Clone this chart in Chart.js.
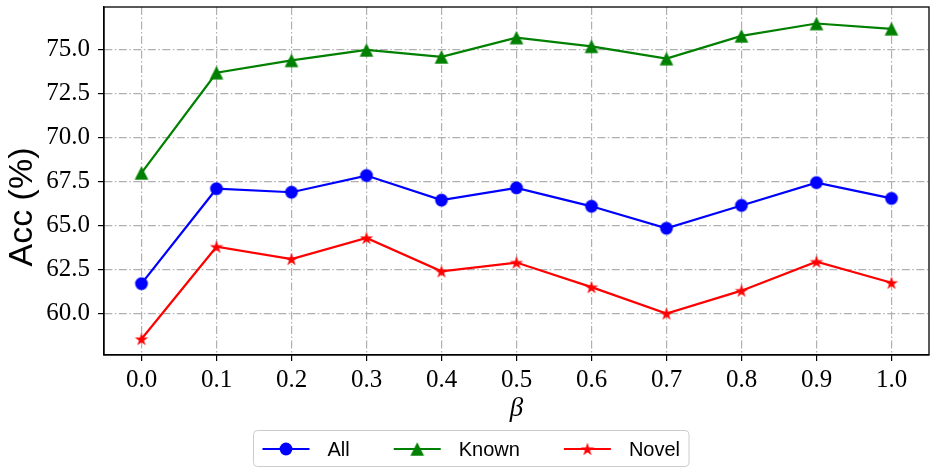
<!DOCTYPE html>
<html>
<head>
<meta charset="utf-8">
<script src="https://cdn.jsdelivr.net/npm/chart.js@4.4.1/dist/chart.umd.min.js"></script>
<style>
  html, body { margin: 0; padding: 0; background: #ffffff; }
  #wrap { width: 933px; height: 468px; }
</style>
</head>
<body>
<div id="wrap"><canvas id="chart" width="933" height="468"></canvas></div>
<script>
// Accuracy (%) against the weighting factor beta
const betaLabels = ['0.0', '0.1', '0.2', '0.3', '0.4', '0.5', '0.6', '0.7', '0.8', '0.9', '1.0'];
const accAll   = [61.7, 67.1, 66.9, 67.85, 66.45, 67.15, 66.1, 64.85, 66.15, 67.45, 66.55];
const accKnown = [68.0, 73.7, 74.4, 75.0, 74.6, 75.7, 75.2, 74.5, 75.8, 76.5, 76.2];
const accNovel = [58.55, 63.8, 63.1, 64.3, 62.4, 62.9, 61.5, 60.0, 61.3, 62.95, 61.75];
const yTicks   = [60.0, 62.5, 65.0, 67.5, 70.0, 72.5, 75.0];
const yRange   = [57.64, 77.44];

const BLUE = '#0000ff', GREEN = '#008000', RED = '#ff0000';

// Filled marker glyphs rendered once into small canvases
function markerCanvas(shape, color) {
  const size = 16, m = size / 2;
  const c = document.createElement('canvas');
  c.width = size; c.height = size;
  const g = c.getContext('2d');
  g.fillStyle = color;
  g.beginPath();
  if (shape === 'circle') {
    g.arc(m, m, 6.4, 0, Math.PI * 2);
  } else if (shape === 'triangle') {
    g.moveTo(m, m - 6.8);
    g.lineTo(m - 6.8, m + 6.8);
    g.lineTo(m + 6.8, m + 6.8);
    g.closePath();
  } else if (shape === 'star') {
    const R = 7, r = R * 0.381966;
    for (let i = 0; i < 10; i++) {
      const a = -Math.PI / 2 + i * Math.PI / 5;
      const rad = i % 2 ? r : R;
      const px = m + rad * Math.cos(a), py = m + 0.6 + rad * Math.sin(a);
      if (i === 0) g.moveTo(px, py); else g.lineTo(px, py);
    }
    g.closePath();
  }
  g.fill();
  return c;
}

const markAll = markerCanvas('circle', BLUE);
const markKnown = markerCanvas('triangle', GREEN);
const markNovel = markerCanvas('star', RED);

// Closed black frame round the plotting area
const frame = {
  id: 'frame',
  afterDatasetsDraw(chart) {
    const {ctx, chartArea: a} = chart;
    ctx.save();
    ctx.setLineDash([]);
    ctx.strokeStyle = '#000';
    ctx.lineWidth = 1.3;
    ctx.strokeRect(a.left, a.top, a.right - a.left, a.bottom - a.top);
    ctx.restore();
  }
};

// Rotated y-axis caption
const yCaption = {
  id: 'yCaption',
  afterDraw(chart) {
    const ctx = chart.ctx;
    ctx.save();
    ctx.translate(23, 207);
    ctx.rotate(-Math.PI / 2);
    ctx.fillStyle = '#000';
    ctx.font = '34px "Liberation Sans"';
    ctx.textAlign = 'center';
    ctx.textBaseline = 'middle';
    ctx.fillText('Acc (%)', 0, 0);
    ctx.restore();
  }
};

// Framed legend below the axis, one line-and-marker sample per series
const lineLegend = {
  id: 'lineLegend',
  afterDraw(chart) {
    const ctx = chart.ctx;
    ctx.save();
    ctx.setLineDash([]);
    ctx.font = '20px "Liberation Sans"';
    const items = chart.data.datasets.map(ds => ({
      label: ds.label, color: ds.borderColor, mark: ds.pointStyle,
      w: ctx.measureText(ds.label).width
    }));
    const handle = 47, gapText = 18, gapItem = 44, padX = 9;
    const total = padX * 2 + items.reduce((s, it) => s + handle + gapText + it.w, 0) + gapItem * (items.length - 1);
    const cx = 470.5, top = 430.5, h = 36, rr = 4;
    const left = Math.round(cx - total / 2) + 0.5, right = left + total;
    ctx.beginPath();
    ctx.moveTo(left + rr, top);
    ctx.arcTo(right, top, right, top + h, rr);
    ctx.arcTo(right, top + h, left, top + h, rr);
    ctx.arcTo(left, top + h, left, top, rr);
    ctx.arcTo(left, top, right, top, rr);
    ctx.closePath();
    ctx.fillStyle = 'rgba(255,255,255,0.8)';
    ctx.fill();
    ctx.strokeStyle = '#cccccc';
    ctx.lineWidth = 1;
    ctx.stroke();

    let x = left + padX;
    const yLine = 449;
    items.forEach(it => {
      ctx.strokeStyle = it.color;
      ctx.lineWidth = 2.2;
      ctx.beginPath();
      ctx.moveTo(x, yLine);
      ctx.lineTo(x + handle, yLine);
      ctx.stroke();
      ctx.drawImage(it.mark, x + handle / 2 - it.mark.width / 2, yLine - it.mark.height / 2);
      ctx.fillStyle = '#000';
      ctx.textAlign = 'left';
      ctx.textBaseline = 'middle';
      ctx.fillText(it.label, x + handle + gapText, yLine + 1);
      x += handle + gapText + it.w + gapItem;
    });
    ctx.restore();
  }
};

const gridDash = [8, 2.5, 1.5, 2.5];

new Chart(document.getElementById('chart'), {
  type: 'line',
  data: {
    labels: betaLabels,
    datasets: [
      { label: 'All', data: accAll, borderColor: BLUE, backgroundColor: BLUE, pointStyle: markAll },
      { label: 'Known', data: accKnown, borderColor: GREEN, backgroundColor: GREEN, pointStyle: markKnown },
      { label: 'Novel', data: accNovel, borderColor: RED, backgroundColor: RED, pointStyle: markNovel }
    ]
  },
  options: {
    responsive: false,
    animation: false,
    events: [],
    devicePixelRatio: 1,
    layout: { padding: { top: 7, right: 2, bottom: 43, left: 0 } },
    elements: {
      line: { borderWidth: 2.2, tension: 0, fill: false },
      point: { radius: 1, borderWidth: 0 }
    },
    plugins: { legend: { display: false }, tooltip: { enabled: false } },
    scales: {
      x: {
        type: 'category',
        offset: true,
        afterFit(scale) {
          scale.height = 70;
          scale.paddingLeft = 0; scale.paddingRight = 0;
        },
        grid: {
          offset: false,
          color: '#b0b0b0', lineWidth: 1.2,
          drawTicks: true, tickLength: 6, tickColor: '#000', tickWidth: 1.2, tickBorderDash: []
        },
        border: { display: true, color: '#000', width: 1.3, dash: gridDash },
        ticks: {
          color: '#000', padding: 4, maxRotation: 0, autoSkip: false,
          font: { family: '"Liberation Serif"', size: 25 }
        },
        title: {
          display: true, text: 'β', color: '#000',
          padding: { top: 0, bottom: 0 },
          font: { family: '"Liberation Serif"', size: 27, style: 'italic', lineHeight: 1.2 }
        }
      },
      y: {
        type: 'linear',
        min: yRange[0],
        max: yRange[1],
        afterFit(scale) {
          scale.width = 104;
          scale.paddingTop = 0; scale.paddingBottom = 0;
        },
        afterBuildTicks(scale) { scale.ticks = yTicks.map(v => ({ value: v })); },
        grid: {
          color: '#b0b0b0', lineWidth: 1.2,
          drawTicks: true, tickLength: 6, tickColor: '#000', tickWidth: 1.2, tickBorderDash: []
        },
        border: { display: true, color: '#000', width: 1.3, dash: gridDash },
        ticks: {
          color: '#000', padding: 8,
          font: { family: '"Liberation Serif"', size: 25 },
          callback: v => Number(v).toFixed(1)
        }
      }
    }
  },
  plugins: [frame, yCaption, lineLegend]
});
</script>
</body>
</html>
